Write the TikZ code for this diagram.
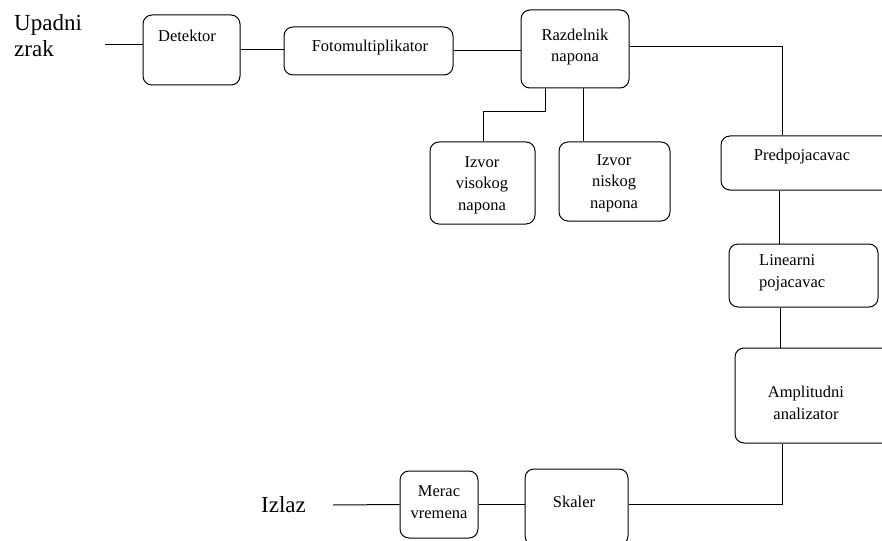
\documentclass[tikz,border=0pt]{standalone}
\usepackage{fontspec}
\setmainfont{Liberation Serif}
\usetikzlibrary{calc}
\begin{document}
\begin{tikzpicture}[x=1pt,y=-1pt,
  blk/.style={draw,rounded corners=9pt,line width=1pt,inner sep=0pt},
  txt/.style={font=\fontsize{16.5}{21.5}\selectfont,align=center,inner sep=0pt},
  big/.style={font=\fontsize{23}{26}\selectfont,align=left,inner sep=0pt},
  wire/.style={line width=1pt}]
\clip (0,0) rectangle (882,540);
\fill[white] (0,0) rectangle (882,540);

% blocks
\node[blk,minimum width=97pt,minimum height=70pt]  (det) at (191.5,50) {};
\node[blk,minimum width=169pt,minimum height=48pt] (fot) at (368.5,51) {};
\node[blk,minimum width=108pt,minimum height=78pt] (raz) at (575,49) {};
\node[blk,minimum width=105pt,minimum height=82pt] (vis) at (482.5,183) {};
\node[blk,minimum width=111pt,minimum height=79pt] (nis) at (614.5,181.5) {};
\node[blk,minimum width=179pt,minimum height=54pt] (pre) at (810.5,163) {};
\node[blk,minimum width=149pt,minimum height=63pt] (lin) at (803.5,275.5) {};
\node[blk,minimum width=165pt,minimum height=95pt] (amp) at (817.5,395.5) {};
\node[blk,minimum width=78pt,minimum height=67pt]  (mer) at (439,504.5) {};
\node[blk,minimum width=103pt,minimum height=76pt] (ska) at (576.5,507) {};

% labels
\node[txt] (tdet) at (187,36) {Detektor};
\node[txt] (tfot) at (370,48) {Fotomultiplikator};
\node[txt] (traz) at (575,47) {Razdelnik\\napona};
\node[txt] (tvis) at (482,185) {Izvor\\visokog\\napona};
\node[txt] (tnis) at (614,183) {Izvor\\niskog\\napona};
\node[txt] (tpre) at (802,157) {Predpojacavac};
\node[txt,align=left,anchor=west] (tlin) at (759,273) {Linearni\\pojacavac};
\node[txt] (tamp) at (806,403) {Amplitudni\\analizator};
\node[txt] (tmer) at (439,502) {Merac\\vremena};
\node[txt] (tska) at (574,502) {Skaler};
\node[big,anchor=west] (in) at (14,36) {Upadni\\zrak};
\node[big,anchor=west] (out) at (261,505) {Izlaz};

% connection points
\coordinate (inE) at (105,45);
\coordinate (outE) at (333,505);
\coordinate (split) at (483,112);
\coordinate (razR) at ($(raz.east)+(0,-2)$);
\coordinate (preN) at ($(pre.north)+(-28,0)$);
\coordinate (razS1) at ($(raz.south)+(-30,0)$);
\coordinate (razS2) at ($(raz.south)+(8,0)$);
\coordinate (preS) at ($(pre.south)+(-31,0)$);
\coordinate (linS) at ($(lin.south)+(-23,0)$);
\coordinate (ampS) at ($(amp.south)+(-35,0)$);

% connections
\draw[wire] (inE) -- (det.west |- inE);
\draw[wire] (det.east) -- (fot.west |- det.east);
\draw[wire] (fot.east) -- (raz.west |- fot.east);
\draw[wire] (razR) -| (preN);
\draw[wire] (razS1) |- (split) -- (split |- vis.north);
\draw[wire] (razS2) -- (razS2 |- nis.north);
\draw[wire] (preS) -- (preS |- lin.north);
\draw[wire] (linS) -- (linS |- amp.north);
\draw[wire] (ampS) |- (ska.east |- mer.east);
\draw[wire] (ska.west |- mer.east) -- (mer.east);
\draw[wire] (mer.west) -- (outE);
\end{tikzpicture}
\end{document}
